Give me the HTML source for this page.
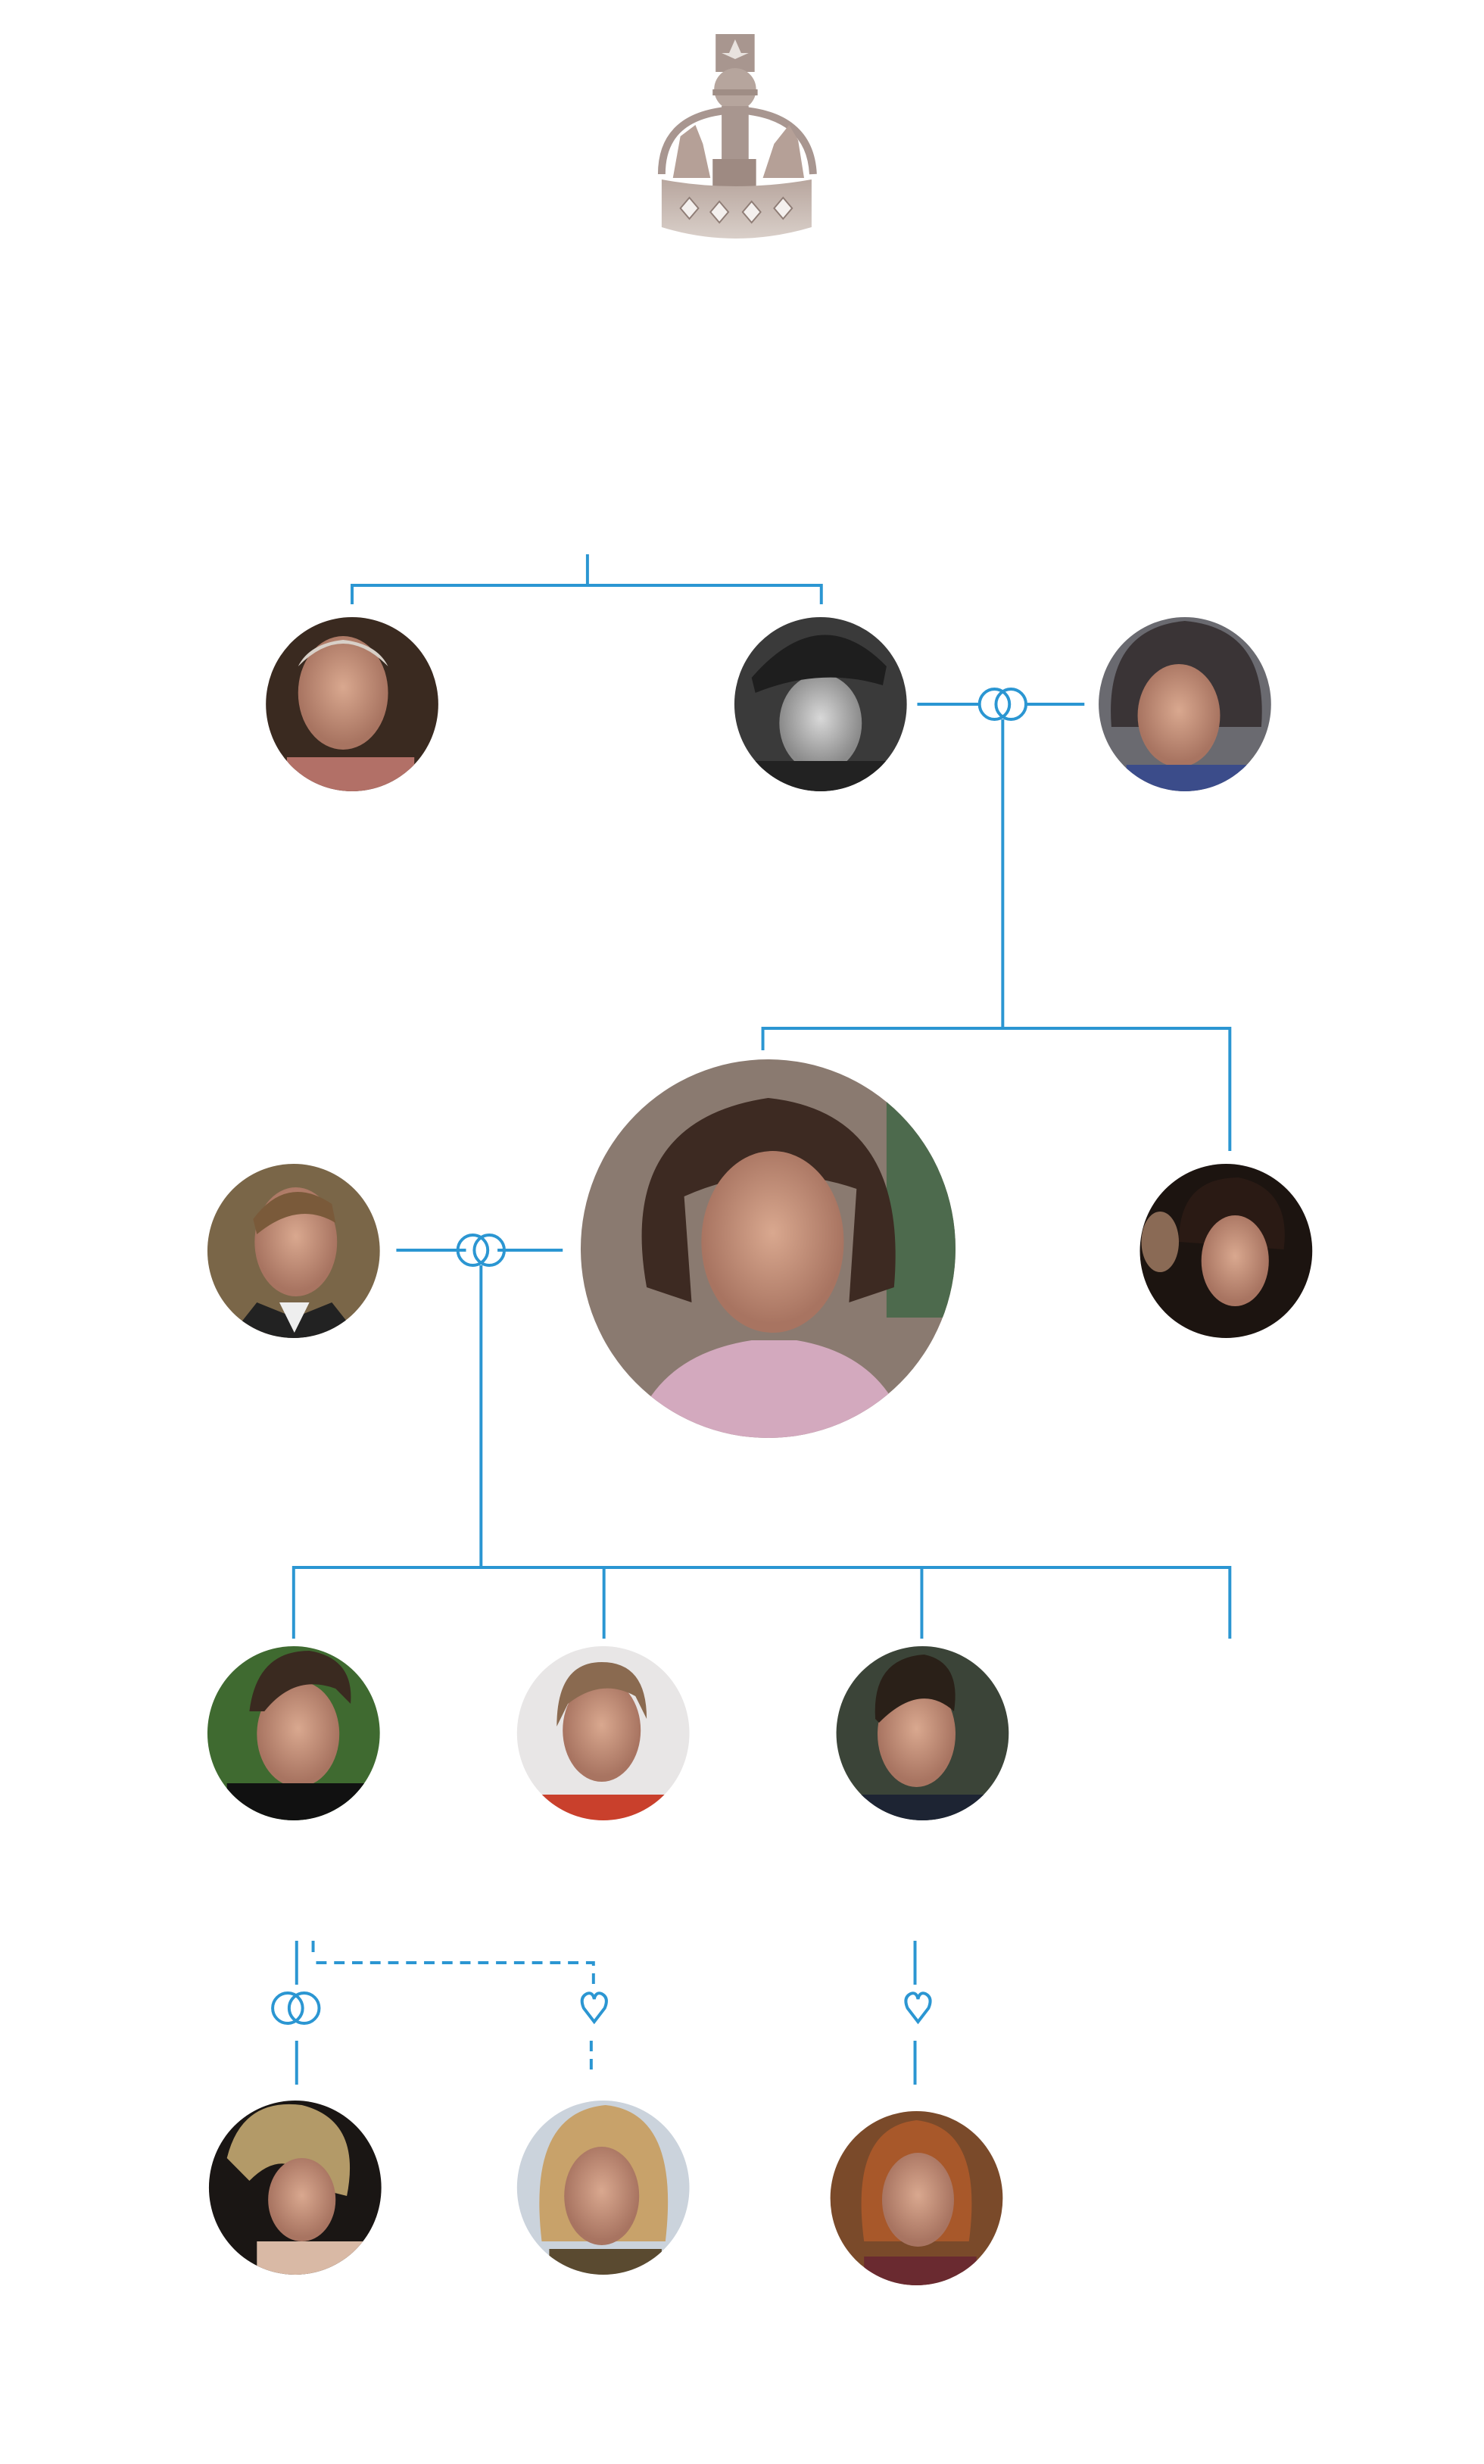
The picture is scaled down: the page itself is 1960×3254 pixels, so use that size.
<!DOCTYPE html>
<html><head><meta charset="utf-8"><style>html,body{margin:0;padding:0;background:#fff}svg{display:block}</style></head>
<body>
<svg width="1960" height="3254" viewBox="0 0 1960 3254" xmlns="http://www.w3.org/2000/svg">
<defs>
<radialGradient id="skin" cx="50%" cy="45%" r="50%"><stop offset="0" stop-color="#d9a88f"/><stop offset="1" stop-color="#a87461"/></radialGradient>
<radialGradient id="gskin" cx="50%" cy="45%" r="50%"><stop offset="0" stop-color="#d8d8d8"/><stop offset="1" stop-color="#8a8a8a"/></radialGradient>
<linearGradient id="silver" x1="0" y1="0" x2="0" y2="1"><stop offset="0" stop-color="#b8a69e"/><stop offset="1" stop-color="#d9cfc9"/></linearGradient>
<clipPath id="c1"><circle cx="467" cy="930" r="115"/></clipPath>
<clipPath id="c2"><circle cx="1092" cy="930" r="115"/></clipPath>
<clipPath id="c3"><circle cx="1578" cy="930" r="115"/></clipPath>
<clipPath id="c4"><circle cx="389" cy="1652" r="115"/></clipPath>
<clipPath id="c5"><circle cx="1022" cy="1649" r="250"/></clipPath>
<clipPath id="c6"><circle cx="1633" cy="1652" r="115"/></clipPath>
<clipPath id="c7"><circle cx="389" cy="2289" r="115"/></clipPath>
<clipPath id="c8"><circle cx="802" cy="2289" r="115"/></clipPath>
<clipPath id="c9"><circle cx="1228" cy="2289" r="115"/></clipPath>
<clipPath id="c10"><circle cx="391" cy="2889" r="115"/></clipPath>
<clipPath id="c11"><circle cx="802" cy="2889" r="115"/></clipPath>
<clipPath id="c12"><circle cx="1220" cy="2903" r="115"/></clipPath>
</defs>
<g transform="matrix(0.99,0,0,1,2.7,0)">
<!-- crown -->
<g>
<rect x="952" y="45" width="52" height="50" fill="#a8968f"/>
<path d="M978 52 L970 70 L960 70 L978 78 L996 70 L986 70 Z" fill="#e8e2de"/>
<circle cx="978" cy="118" r="28" fill="#b6a59d"/>
<rect x="948" y="118" width="60" height="8" fill="#9f8d85"/>
<path d="M880 230 Q880 150 978 145 Q1078 150 1082 230" fill="none" stroke="#a89690" stroke-width="10"/>
<rect x="960" y="140" width="36" height="110" fill="#a8968f"/>
<path d="M895 235 L905 180 L925 165 L935 190 L945 235 Z" fill="#b5a097"/>
<path d="M1015 235 L1030 190 L1050 165 L1062 185 L1070 235 Z" fill="#b5a097"/>
<rect x="948" y="210" width="58" height="55" fill="#9e8a82"/>
<path d="M880 237 Q978 255 1080 237 L1080 300 Q978 330 880 300 Z" fill="url(#silver)"/>
<g fill="#f4f0ee" stroke="#8f7d76" stroke-width="2">
<path d="M905 275 l12 -14 l12 14 l-12 14 z"/><path d="M945 280 l12 -14 l12 14 l-12 14 z"/><path d="M988 280 l12 -14 l12 14 l-12 14 z"/><path d="M1030 275 l12 -14 l12 14 l-12 14 z"/>
</g>
</g>

<!-- connectors -->
<g fill="none" stroke="#2b96d2" stroke-width="4">
<path d="M781 732 V773 M467 798 V773 H1093 V798"/>
<path d="M1221 930 H1304 M1366 930 H1444"/>
<circle cx="1324" cy="930" r="20"/><circle cx="1346" cy="930" r="20"/>
<path d="M1335 950 V1358 M1015 1387 V1358 H1638 V1520"/>
<path d="M526 1651 H619 M661 1651 H748"/>
<circle cx="628" cy="1651" r="20"/><circle cx="650" cy="1651" r="20"/>
<path d="M639 1671 V2070 M389 2164 V2070 H1638 V2164 M803 2070 V2164 M1227 2070 V2164"/>
<path d="M393 2563 V2621 M393 2695 V2753"/>
<circle cx="381" cy="2652" r="20"/><circle cx="403" cy="2652" r="20"/>
<path d="M415 2563 V2578"/>
<path d="M419 2592 H789 V2624" stroke-dasharray="14 10"/>
<path d="M786 2695 V2742" stroke-dasharray="14 10"/>
<path d="M1218 2563 V2621 M1218 2695 V2753"/>
<path d="M790 2670 L776 2652 Q770 2638 780 2633 Q788 2630 790 2640 Q792 2630 800 2633 Q810 2638 804 2652 Z"/>
<path d="M1222 2670 L1208 2652 Q1202 2638 1212 2633 Q1220 2630 1222 2640 Q1224 2630 1232 2633 Q1242 2638 1236 2652 Z"/>
</g>

<!-- portraits -->
<g clip-path="url(#c1)"><rect x="340" y="800" width="260" height="260" fill="#3a2a20"/><ellipse cx="455" cy="915" rx="60" ry="75" fill="url(#skin)"/><path d="M395 880 Q455 820 515 880 Q500 850 455 845 Q410 850 395 880Z" fill="#d8d0c8"/><rect x="380" y="1000" width="170" height="60" fill="#b27067"/></g>
<g clip-path="url(#c2)"><rect x="970" y="800" width="260" height="260" fill="#3a3a3a"/><ellipse cx="1092" cy="955" rx="55" ry="65" fill="url(#gskin)"/><path d="M1000 895 Q1092 790 1180 880 L1175 905 Q1092 880 1005 915Z" fill="#1e1e1e"/><rect x="1000" y="1005" width="190" height="60" fill="#222"/></g>
<g clip-path="url(#c3)"><rect x="1450" y="800" width="260" height="260" fill="#6a6a70"/><path d="M1480 960 Q1470 830 1578 820 Q1690 830 1680 960 Z" fill="#3a3436"/><ellipse cx="1570" cy="945" rx="55" ry="68" fill="url(#skin)"/><rect x="1500" y="1010" width="160" height="50" fill="#3b4c8a"/></g>
<g clip-path="url(#c4)"><rect x="260" y="1530" width="260" height="260" fill="#7a6648"/><ellipse cx="392" cy="1640" rx="55" ry="72" fill="url(#skin)"/><path d="M335 1610 Q380 1550 440 1590 L445 1615 Q395 1585 340 1630Z" fill="#7a5a3a"/><path d="M300 1770 L340 1720 L390 1740 L440 1720 L480 1770Z" fill="#222"/><path d="M370 1720 L390 1760 L410 1720Z" fill="#eee"/></g>
<g clip-path="url(#c5)"><rect x="760" y="1390" width="530" height="520" fill="#8a7a70"/><rect x="1180" y="1440" width="110" height="300" fill="#4d6a4d"/><path d="M860 1700 Q820 1480 1022 1450 Q1210 1470 1190 1700 L1130 1720 L1140 1570 Q1022 1530 910 1580 L920 1720Z" fill="#3d2a22"/><ellipse cx="1028" cy="1640" rx="95" ry="120" fill="url(#skin)"/><path d="M840 1900 Q870 1790 1000 1770 L1060 1770 Q1180 1790 1210 1900Z" fill="#d3a9be"/></g>
<g clip-path="url(#c6)"><rect x="1510" y="1530" width="260" height="260" fill="#1c1410"/><path d="M1570 1640 Q1570 1555 1650 1555 Q1720 1570 1710 1650 Z" fill="#2a1a14"/><ellipse cx="1645" cy="1665" rx="45" ry="60" fill="url(#skin)"/><ellipse cx="1545" cy="1640" rx="25" ry="40" fill="#8a6a55"/></g>
<g clip-path="url(#c7)"><rect x="270" y="2170" width="260" height="260" fill="#3f6a30"/><ellipse cx="395" cy="2290" rx="55" ry="70" fill="url(#skin)"/><path d="M330 2260 Q340 2180 410 2180 Q470 2190 465 2250 L445 2230 Q390 2210 350 2260Z" fill="#3a2a20"/><rect x="300" y="2355" width="200" height="80" fill="#111"/></g>
<g clip-path="url(#c8)"><rect x="680" y="2170" width="260" height="260" fill="#e8e6e6"/><ellipse cx="800" cy="2285" rx="52" ry="68" fill="url(#skin)"/><path d="M740 2280 Q740 2195 800 2195 Q860 2195 860 2270 L845 2240 Q800 2215 755 2250Z" fill="#8a6a50"/><rect x="720" y="2370" width="170" height="60" fill="#c9402c"/></g>
<g clip-path="url(#c9)"><rect x="1100" y="2170" width="260" height="260" fill="#3b4438"/><ellipse cx="1220" cy="2290" rx="52" ry="70" fill="url(#skin)"/><path d="M1165 2270 Q1160 2190 1230 2185 Q1280 2195 1270 2260 Q1225 2220 1170 2275Z" fill="#2a2018"/><rect x="1130" y="2370" width="200" height="60" fill="#1d2433"/></g>
<g clip-path="url(#c10)"><rect x="270" y="2770" width="260" height="260" fill="#1a1614"/><path d="M300 2850 Q320 2770 400 2780 Q480 2800 460 2900 L420 2890 Q380 2830 330 2880Z" fill="#b39a68"/><ellipse cx="400" cy="2905" rx="45" ry="55" fill="url(#skin)"/><rect x="340" y="2960" width="160" height="70" fill="#d9b9a5"/></g>
<g clip-path="url(#c11)"><rect x="680" y="2770" width="260" height="260" fill="#cbd3dc"/><path d="M720 2960 Q700 2790 805 2780 Q905 2790 885 2960Z" fill="#c8a26a"/><ellipse cx="800" cy="2900" rx="50" ry="65" fill="url(#skin)"/><rect x="730" y="2970" width="150" height="60" fill="#5a4a30"/></g>
<g clip-path="url(#c12)"><rect x="1100" y="2785" width="260" height="260" fill="#7a4a2a"/><path d="M1150 2960 Q1130 2810 1220 2800 Q1310 2810 1290 2960Z" fill="#a8582a"/><ellipse cx="1222" cy="2905" rx="48" ry="62" fill="url(#skin)"/><rect x="1150" y="2980" width="150" height="70" fill="#6a2a30"/></g>
</g>
</svg>
</body></html>
